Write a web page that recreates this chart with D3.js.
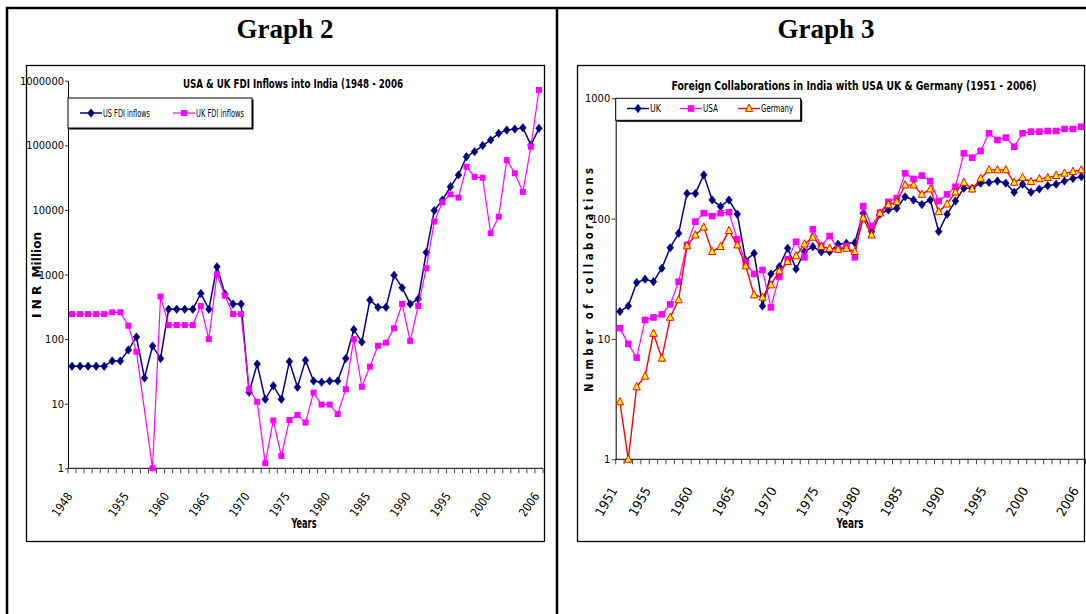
<!DOCTYPE html>
<html>
<head>
<meta charset="utf-8">
<script src="https://cdn.jsdelivr.net/npm/d3@7"></script>
<style>
  body { margin: 0; background: #fff; }
  svg { display: block; }
  text { font-family: "Liberation Sans Narrow", "Arial Narrow", "DejaVu Sans Condensed", "Liberation Sans", sans-serif; fill: #000; }
  .head { font-family: "Liberation Serif", "Times New Roman", serif; font-weight: bold; }
</style>
</head>
<body>
<div id="chart"></div>
<script>
// ---- Graph 2 data: FDI inflows, INR million ----
const fdiYears = d3.range(1948, 2007);
const fdiLabelYears = [1948, 1955, 1960, 1965, 1970, 1975, 1980, 1985, 1990, 1995, 2000, 2006];
const usFdi = [38, 38, 38, 38, 38, 46, 46, 68, 108, 25, 78, 50,
  290, 290, 290, 290, 510, 290, 1320, 500, 350, 350,
  15, 41, 11.7, 19, 11.7, 45, 18, 47, 22.5, 21.5, 22.5, 22.5, 50, 141, 90,
  403, 310, 310, 975, 625, 350, 418, 2200, 9800, 14200, 22800, 34700,
  66600, 79800, 99000, 121000, 153000, 172000, 178000, 187000, 101000, 183000];
const ukFdi = [244, 244, 244, 244, 244, 260, 260, 161, 64, null, 1, 455,
  165, 165, 165, 165, 325, 100, 1000, 470, 244, 244,
  16.7, 10.7, 1.2, 5.5, 1.55, 5.6, 6.7, 5.1, 14.8, 9.7, 9.7, 6.9, 16.7, 100, 18.3,
  37.5, 79, 88, 147, 350, 94, 325, 1250, 6600, 13100, 17400, 15500,
  46500, 32500, 31500, 4350, 7850, 59000, 37000, 19000, 95000, 720000];
const fdiTicks = [1, 10, 100, 1000, 10000, 100000, 1000000];

// ---- Graph 3 data: number of foreign collaborations ----
const collabYears = d3.range(1951, 2007);
const collabLabelYears = [1951, 1955, 1960, 1965, 1970, 1975, 1980, 1985, 1990, 1995, 2000, 2006];
const ukCollab = [16.9, 18.8, 29.4, 31.3, 29.9, 38.7, 57.4, 75.5, 162, 162,
  231, 143, 126, 143, 109, 44.8, 51.5, 18.8, 34.7, 39.9,
  56.7, 38.1, 53.1, 58.5, 53.1, 53.1, 61.2, 62.4, 63, 111,
  78, 109, 118, 122, 152, 143, 131, 143, 78, 109,
  140, 179, 179, 197, 200, 205, 197, 166, 193, 166,
  176, 188, 193, 205, 216, 223];
const usaCollab = [12.3, 9.1, 7.0, 14.4, 15.1, 16.0, 19.4, 29.9, 60.3, 94.4,
  111, 105, 111, 113, 67.3, 43, 34.7, 37.4, 18.3, 33,
  45.9, 64.3, 47.7, 81.5, 59.3, 71.7, 55.6, 59.3, 47.7, 127,
  86.9, 112, 138, 148, 238, 214, 228, 205, 140, 159,
  184, 349, 321, 365, 512, 451, 471, 396, 512, 528,
  528, 535, 535, 556, 556, 581];
const germanyCollab = [3, 1, 4.0, 4.9, 11.1, 6.9, 15.1, 21.1, 59.3, 73.1,
  84.8, 53.1, 58.5, 79.4, 60.3, 40.4, 23.2, 22.2, 28.1, 36.7,
  43.9, 49, 61.5, 70, 58.5, 56.6, 55.6, 56.6, 53.1, 101,
  73.1, 111, 130, 138, 190, 190, 159, 176, 114, 132,
  166, 200, 176, 216, 254, 254, 254, 200, 219, 203,
  214, 219, 228, 238, 246, 254];
const collabTicks = [1, 10, 100, 1000];

const W = 1086, H = 614;
const svg = d3.select("#chart").append("svg").attr("width", W).attr("height", H);
svg.append("rect").attr("width", W).attr("height", H).attr("fill", "#fff");

// table lines
const tbl = svg.append("g").attr("stroke", "#000").attr("stroke-width", 2.5);
tbl.append("line").attr("x1", 6).attr("x2", W).attr("y1", 8).attr("y2", 8);
tbl.append("line").attr("x1", 7).attr("x2", 7).attr("y1", 7).attr("y2", H);
tbl.append("line").attr("x1", 557).attr("x2", 557).attr("y1", 7).attr("y2", H);

svg.append("text").attr("class", "head").attr("x", 285).attr("y", 38)
  .attr("text-anchor", "middle").attr("font-size", 27).text("Graph 2");
svg.append("text").attr("class", "head").attr("x", 826).attr("y", 38)
  .attr("text-anchor", "middle").attr("font-size", 27).text("Graph 3");

const markers = {
  diamond: (g, c, s) => g.append("path")
    .attr("d", `M0,${-s * 1.25}L${s},0L0,${s * 1.25}L${-s},0Z`)
    .attr("fill", c).attr("stroke", c).attr("stroke-width", 0.5),
  square: (g, c, s) => g.append("rect")
    .attr("x", -s).attr("y", -s).attr("width", 2 * s).attr("height", 2 * s).attr("fill", c),
  triangle: (g, c, s) => g.append("path")
    .attr("d", `M0,${-s * 1.2}L${s},${s * 0.8}L${-s},${s * 0.8}Z`)
    .attr("fill", "#ffff00").attr("stroke", c).attr("stroke-width", 1)
};

function drawPanel(p) {
  const g = svg.append("g");
  g.append("rect").attr("x", p.frame[0]).attr("y", p.frame[1])
    .attr("width", p.frame[2]).attr("height", p.frame[3])
    .attr("fill", "#fff").attr("stroke", "#000").attr("stroke-width", 1.3);

  const x = d3.scaleBand().domain(p.years).range([p.x0, p.x1]);
  const y = d3.scaleLog().domain([p.ticks[0], p.ticks[p.ticks.length - 1]]).range([p.yBottom, p.yTop]);
  const cx = d => x(d) + x.bandwidth() / 2;
  const y0 = p.yBottom;

  // title
  g.append("text").attr("x", p.title.x).attr("y", p.title.y)
    .attr("text-anchor", "middle").attr("font-weight", "bold").attr("font-size", p.title.size)
    .attr("textLength", p.title.len).attr("lengthAdjust", "spacingAndGlyphs")
    .text(p.title.text);

  // y axis
  g.append("g").attr("transform", `translate(${p.x0},0)`)
    .call(d3.axisLeft(y).tickValues(p.ticks).tickFormat(d3.format("d"))
      .tickSize(p.tickSize).tickSizeOuter(0).tickPadding(p.tickPad))
    .call(a => a.select(".domain").attr("stroke", "#000"))
    .call(a => a.selectAll(".tick line").attr("stroke", "#333"))
    .call(a => a.selectAll("text").attr("font-size", 11).attr("fill", "#000"));

  // x axis: line + ticks between categories
  g.append("line").attr("x1", p.x0).attr("x2", p.x1).attr("y1", y0).attr("y2", y0)
    .attr("stroke", "#000");
  const bounds = p.years.map(d => x(d)).concat([p.x1]);
  g.append("g").selectAll("line").data(bounds).join("line")
    .attr("x1", d => d).attr("x2", d => d).attr("y1", y0).attr("y2", y0 + 5)
    .attr("stroke", "#444");
  g.append("g").selectAll("text").data(p.labelYears).join("text")
    .attr("transform", d => `translate(${cx(d) + p.lbl.dx},${y0 + p.lbl.dy}) rotate(${p.lbl.rot})`)
    .attr("text-anchor", "end").attr("font-size", p.lbl.size)
    .attr("textLength", p.lbl.len).attr("lengthAdjust", "spacingAndGlyphs")
    .text(d => d);

  // axis titles
  g.append("text").attr("x", p.xTitle.x).attr("y", p.xTitle.y).attr("text-anchor", "middle")
    .attr("font-weight", "bold").attr("font-size", 14)
    .attr("textLength", p.xTitle.len).attr("lengthAdjust", "spacingAndGlyphs").text("Years");
  g.append("text").attr("transform", `translate(${p.yTitle.x},${p.yTitle.y}) rotate(-90)`)
    .attr("text-anchor", "middle").attr("font-weight", "bold").attr("font-size", 12)
    .style("white-space", "pre")
    .attr("textLength", p.yTitle.len).attr("lengthAdjust", "spacingAndGlyphs").text(p.yTitle.text);

  // series
  const line = d3.line().x(d => cx(d.year)).y(d => y(d.v));
  p.series.forEach(s => {
    const pts = p.years.map((yr, i) => ({ year: yr, v: s.values[i] })).filter(d => d.v != null);
    g.append("path").datum(pts).attr("d", line).attr("fill", "none")
      .attr("stroke", s.color).attr("stroke-width", s.width);
    g.append("g").selectAll("g").data(pts).join("g")
      .attr("transform", d => `translate(${cx(d.year)},${y(d.v)})`)
      .each(function () { markers[s.marker](d3.select(this), s.color, s.size); });
  });

  // legend
  const L = p.legend;
  g.append("rect").attr("x", L.box[0] + 1.5).attr("y", L.box[1] + 1.5)
    .attr("width", L.box[2]).attr("height", L.box[3]).attr("fill", "#000");
  g.append("rect").attr("x", L.box[0]).attr("y", L.box[1]).attr("width", L.box[2]).attr("height", L.box[3])
    .attr("fill", "#fff").attr("stroke", "#000").attr("stroke-width", 1);
  p.series.forEach((s, i) => {
    const it = L.items[i];
    g.append("line").attr("x1", it.x).attr("x2", it.x + 22).attr("y1", L.cy).attr("y2", L.cy)
      .attr("stroke", s.color).attr("stroke-width", s.width);
    markers[s.marker](g.append("g").attr("transform", `translate(${it.x + 11},${L.cy})`), s.color, s.size);
    g.append("text").attr("x", it.x + 23).attr("y", L.cy + 3.5).attr("font-size", L.size)
      .attr("textLength", it.len).attr("lengthAdjust", "spacingAndGlyphs").text(s.name);
  });
}

drawPanel({
  frame: [26.5, 65.5, 518, 476],
  years: fdiYears, labelYears: fdiLabelYears, ticks: fdiTicks,
  x0: 68, x1: 543, yBottom: 468.3, yTop: 80.7,
  tickSize: 3, tickPad: 1,
  title: { text: "USA & UK FDI Inflows into India (1948 - 2006", x: 293, y: 88, size: 12.5, len: 220 },
  lbl: { dx: 1, dy: 28, rot: -55, size: 12, len: 26 },
  xTitle: { x: 304, y: 528, len: 25 },
  yTitle: { text: "I N R  Million", x: 41, y: 275, len: 86 },
  series: [
    { name: "US FDI inflows", values: usFdi, color: "#000080", marker: "diamond", size: 3.4, width: 1.5 },
    { name: "UK FDI inflows", values: ukFdi, color: "#ff00ff", marker: "square", size: 3, width: 1.2 }
  ],
  legend: { box: [68, 98, 184, 30], cy: 113, size: 10,
    items: [{ x: 80, len: 47 }, { x: 173, len: 48 }] }
});

drawPanel({
  frame: [577.5, 65.5, 507, 476],
  years: collabYears, labelYears: collabLabelYears, ticks: collabTicks,
  x0: 615.7, x1: 1085.5, yBottom: 459.3, yTop: 98.3,
  tickSize: 4, tickPad: 1.5,
  title: { text: "Foreign Collaborations in India with USA UK & Germany (1951 - 2006)", x: 854, y: 90, size: 12, len: 365 },
  lbl: { dx: -2, dy: 31, rot: -60, size: 13, len: 31 },
  xTitle: { x: 850, y: 528, len: 27 },
  yTitle: { text: "N u m b e r   o f   c o l l a b o r a t i o n s", x: 593, y: 280, len: 224 },
  series: [
    { name: "UK", values: ukCollab, color: "#000080", marker: "diamond", size: 3.4, width: 1.5 },
    { name: "USA", values: usaCollab, color: "#ff00ff", marker: "square", size: 3.3, width: 1.2 },
    { name: "Germany", values: germanyCollab, color: "#ff0000", marker: "triangle", size: 3.6, width: 1.4 }
  ],
  legend: { box: [615.7, 98.3, 185, 22], cy: 108.5, size: 10.5,
    items: [{ x: 627, len: 11 }, { x: 680, len: 15 }, { x: 738, len: 32 }] }
});
</script>
</body>
</html>
